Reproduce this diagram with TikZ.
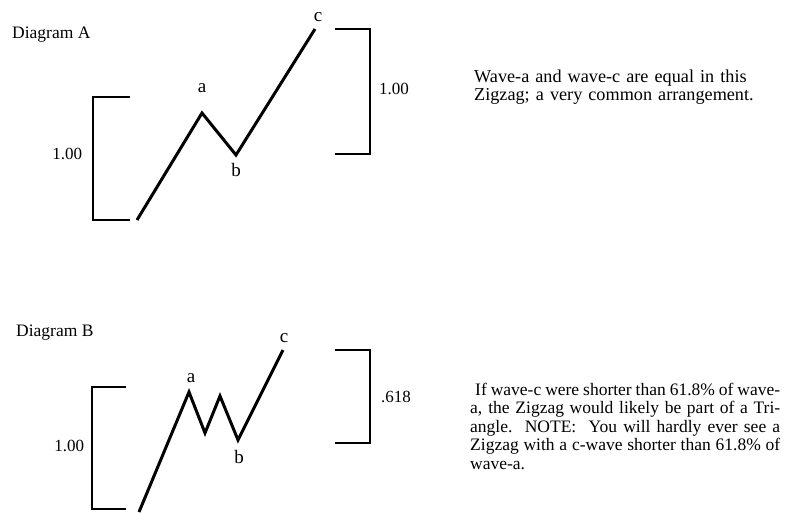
\documentclass[tikz,border=0pt]{standalone}
\usepackage{fontspec}
\setmainfont{Liberation Serif}
\usetikzlibrary{positioning}
\tikzset{
  wave/.style    = {line width=3pt, line join=miter},
  bracket/.style = {line width=2pt, line join=miter},
  title/.style   = {font=\fontsize{17.5}{18}\selectfont, anchor=base west, inner sep=0pt},
  ratio/.style   = {font=\fontsize{17}{18}\selectfont, inner sep=0pt},
  wlabel/.style  = {font=\fontsize{19}{20}\selectfont, inner sep=0pt},
  note/.style    = {font=\fontsize{17.5}{18.6}\selectfont, anchor=base west,
                    inner sep=0pt, text width=310pt},
}

\begin{document}
\begin{tikzpicture}[x=1pt, y=-1pt]
  \useasboundingbox (0,0) rectangle (792,512);

  % Diagram A
  \node[title] (titleA) at (12,38) {Diagram A};
  \coordinate (A0) at (137,220);
  \coordinate (Aa) at (202,113);
  \coordinate (Ab) at (236,155);
  \coordinate (Ac) at (315,29);
  \draw[wave] (A0) -- (Aa) -- (Ab) -- (Ac);
  \node[wlabel, above=20pt of Aa] (la) {a};
  \node[wlabel, below=8pt of Ab]  (lb) {b};
  \node[wlabel, above=7pt of Ac, xshift=3pt] (lc) {c};

  \coordinate (ALt) at (130,97);
  \coordinate (ALb) at (130,220);
  \draw[bracket] (ALt) -- (93,97) -- node[ratio, left=10pt, pos=0.46] (rA1) {1.00} (93,220) -- (ALb);
  \coordinate (ARt) at (335,29);
  \coordinate (ARb) at (335,154);
  \draw[bracket] (ARt) -- (370,29) -- node[ratio, right=8pt, pos=0.48] (rA2) {1.00} (370,154) -- (ARb);

  \node[note, font=\fontsize{18.2}{18}\selectfont, text width=300pt, align=left] (noteA) at (474,82)
    {Wave-a and wave-c are equal in this\\Zigzag; a very common arrangement.};

  % Diagram B
  \node[title] (titleB) at (16,336) {Diagram B};
  \coordinate (B0) at (139,512);
  \coordinate (Ba) at (189,392);
  \coordinate (Bx) at (205,433);
  \coordinate (By) at (220,396);
  \coordinate (Bb) at (238,440);
  \coordinate (Bc) at (283,350);
  \draw[wave] (B0) -- (Ba) -- (Bx) -- (By) -- (Bb) -- (Bc);
  \node[wlabel, above=9pt of Ba, xshift=2pt]  (la2) {a};
  \node[wlabel, below=10pt of Bb, xshift=1pt] (lb2) {b};
  \node[wlabel, above=7pt of Bc, xshift=1pt]  (lc2) {c};

  \coordinate (BLt) at (126,387);
  \coordinate (BLb) at (126,509);
  \draw[bracket] (BLt) -- (92,387) -- node[ratio, left=7pt, pos=0.48] (rB1) {1.00} (92,509) -- (BLb);
  \coordinate (BRt) at (335,350);
  \coordinate (BRb) at (335,443);
  \draw[bracket] (BRt) -- (370,350) -- node[ratio, right=10pt] (rB2) {.618} (370,443) -- (BRb);

  \node[note, align=justify] (noteB) at (470,395)
    {\hspace*{5pt}If wave-c were shorter than 61.8\% of wave-\linebreak
     a, the Zigzag would likely be part of a Tri-\linebreak
     angle.\ \ NOTE:\ \ You will hardly ever see a
     Zigzag with a c-wave shorter than 61.8\% of\linebreak
     wave-a.};
\end{tikzpicture}
\end{document}
